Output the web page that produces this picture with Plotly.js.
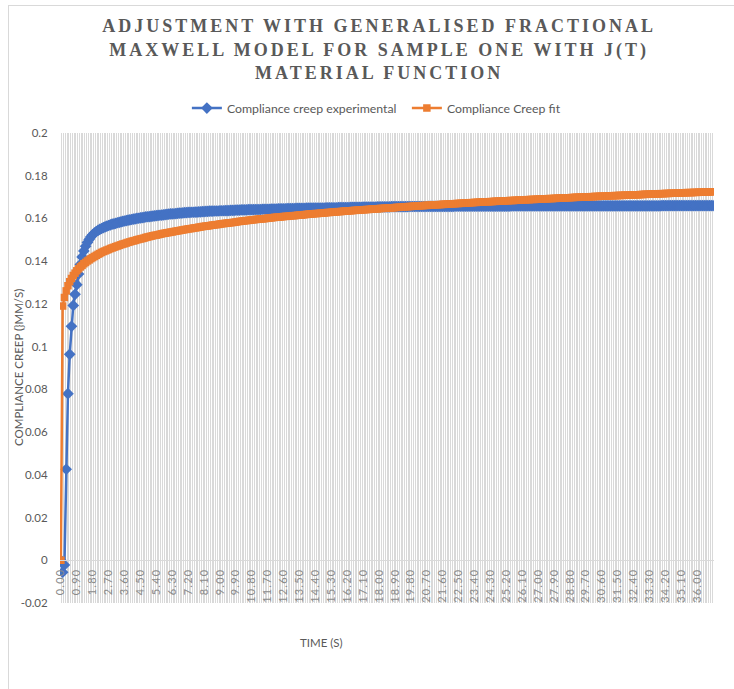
<!DOCTYPE html>
<html><head><meta charset="utf-8">
<script src="https://cdn.plot.ly/plotly-3.0.1.min.js"></script>
<style>
html,body{margin:0;padding:0;background:#fff;overflow:hidden;}
#chart{width:734px;height:689px;}
#frame{position:absolute;left:8px;top:5px;width:760px;height:720px;border:1px solid #d9d9d9;pointer-events:none;}
.gtitle{letter-spacing:3px;}
.xtick text{letter-spacing:1.2px;}
</style></head><body>
<div id="chart"></div><div id="frame"></div>
<script>
const seriesNames = ['Compliance creep experimental', 'Compliance Creep fit'];
const startTime = 0;
const timeStep = 0.1;
// Compliance creep experimental, one value per 0.1 s (rows = whole seconds)
const experimental = [
0, -0.0056, -0.0022, 0.0426, 0.078, 0.0964, 0.1095, 0.1193, 0.1245, 0.129,
0.134, 0.1385, 0.142, 0.1448, 0.147, 0.1488, 0.1502, 0.1514, 0.1524, 0.1532,
0.1539, 0.1544, 0.1549, 0.1553, 0.1557, 0.1561, 0.1564, 0.1567, 0.157, 0.1573,
0.1575, 0.1577, 0.158, 0.1582, 0.1584, 0.1586, 0.1588, 0.159, 0.1592, 0.1593,
0.1595, 0.1597, 0.1598, 0.16, 0.1601, 0.1603, 0.1604, 0.1605, 0.1607, 0.1608,
0.1609, 0.161, 0.1611, 0.1612, 0.1613, 0.1614, 0.1615, 0.1616, 0.1617, 0.1618,
0.1619, 0.162, 0.1621, 0.1621, 0.1622, 0.1623, 0.1624, 0.1625, 0.1625, 0.1626,
0.1627, 0.1627, 0.1628, 0.1628, 0.1629, 0.1629, 0.163, 0.163, 0.1631, 0.1631,
0.1632, 0.1632, 0.1633, 0.1633, 0.1634, 0.1634, 0.1634, 0.1635, 0.1635, 0.1635,
0.1636, 0.1636, 0.1636, 0.1637, 0.1637, 0.1637, 0.1638, 0.1638, 0.1638, 0.1639,
0.1639, 0.1639, 0.164, 0.164, 0.164, 0.164, 0.1641, 0.1641, 0.1641, 0.1641,
0.1642, 0.1642, 0.1642, 0.1642, 0.1643, 0.1643, 0.1643, 0.1643, 0.1643, 0.1644,
0.1644, 0.1644, 0.1644, 0.1645, 0.1645, 0.1645, 0.1645, 0.1645, 0.1646, 0.1646,
0.1646, 0.1646, 0.1646, 0.1647, 0.1647, 0.1647, 0.1647, 0.1647, 0.1647, 0.1648,
0.1648, 0.1648, 0.1648, 0.1648, 0.1649, 0.1649, 0.1649, 0.1649, 0.1649, 0.1649,
0.165, 0.165, 0.165, 0.165, 0.165, 0.165, 0.165, 0.1651, 0.1651, 0.1651,
0.1651, 0.1651, 0.1651, 0.1651, 0.1652, 0.1652, 0.1652, 0.1652, 0.1652, 0.1652,
0.1652, 0.1653, 0.1653, 0.1653, 0.1653, 0.1653, 0.1653, 0.1653, 0.1653, 0.1654,
0.1654, 0.1654, 0.1654, 0.1654, 0.1654, 0.1654, 0.1654, 0.1655, 0.1655, 0.1655,
0.1655, 0.1655, 0.1655, 0.1655, 0.1655, 0.1655, 0.1655, 0.1656, 0.1656, 0.1656,
0.1656, 0.1656, 0.1656, 0.1656, 0.1656, 0.1656, 0.1656, 0.1656, 0.1657, 0.1657,
0.1657, 0.1657, 0.1657, 0.1657, 0.1657, 0.1657, 0.1657, 0.1657, 0.1657, 0.1657,
0.1657, 0.1657, 0.1657, 0.1658, 0.1658, 0.1658, 0.1658, 0.1658, 0.1658, 0.1658,
0.1658, 0.1658, 0.1658, 0.1658, 0.1658, 0.1658, 0.1658, 0.1658, 0.1658, 0.1658,
0.1658, 0.1658, 0.1658, 0.1658, 0.1658, 0.1658, 0.1658, 0.1658, 0.1658, 0.1658,
0.1658, 0.1658, 0.1658, 0.1658, 0.1658, 0.1659, 0.1659, 0.1659, 0.1659, 0.1659,
0.1659, 0.1659, 0.1659, 0.1659, 0.1659, 0.1659, 0.1659, 0.1659, 0.1659, 0.1659,
0.1659, 0.1659, 0.1659, 0.1659, 0.1659, 0.1659, 0.1659, 0.1659, 0.1659, 0.1659,
0.1659, 0.1659, 0.1659, 0.1659, 0.1659, 0.1659, 0.1659, 0.1659, 0.1659, 0.1659,
0.1659, 0.1659, 0.1659, 0.1659, 0.1659, 0.1659, 0.1659, 0.1659, 0.1659, 0.1659,
0.1659, 0.1659, 0.1659, 0.1659, 0.1659, 0.1659, 0.1659, 0.1659, 0.1659, 0.1659,
0.1659, 0.1659, 0.1659, 0.1659, 0.1659, 0.1659, 0.1659, 0.1659, 0.1659, 0.1659,
0.1659, 0.1659, 0.1659, 0.1659, 0.1659, 0.1659, 0.1659, 0.1659, 0.1659, 0.1659,
0.1659, 0.1659, 0.1659, 0.1659, 0.1659, 0.1659, 0.1659, 0.1659, 0.1659, 0.1659,
0.166, 0.166, 0.166, 0.166, 0.166, 0.166, 0.166, 0.166, 0.166, 0.166,
0.166, 0.166, 0.166, 0.166, 0.166, 0.166, 0.166, 0.166, 0.166, 0.166,
0.166, 0.166, 0.166, 0.166, 0.166, 0.166, 0.166, 0.166, 0.166, 0.166
];
// Compliance Creep fit, one value per 0.1 s (rows = whole seconds)
const fit = [
0, 0.119, 0.123, 0.1261, 0.1285, 0.1304, 0.1319, 0.1333, 0.1344, 0.1355,
0.1364, 0.1373, 0.138, 0.1388, 0.1394, 0.1401, 0.1406, 0.1412, 0.1417, 0.1422,
0.1427, 0.1432, 0.1436, 0.1441, 0.1445, 0.1448, 0.1452, 0.1455, 0.1459, 0.1462,
0.1465, 0.1468, 0.1471, 0.1474, 0.1477, 0.148, 0.1482, 0.1485, 0.1488, 0.149,
0.1493, 0.1495, 0.1497, 0.15, 0.1502, 0.1504, 0.1506, 0.1508, 0.1511, 0.1513,
0.1515, 0.1517, 0.1519, 0.1521, 0.1522, 0.1524, 0.1526, 0.1528, 0.153, 0.1531,
0.1533, 0.1534, 0.1536, 0.1537, 0.1539, 0.154, 0.1542, 0.1543, 0.1545, 0.1546,
0.1548, 0.1549, 0.1551, 0.1552, 0.1553, 0.1555, 0.1556, 0.1557, 0.1559, 0.156,
0.1562, 0.1563, 0.1564, 0.1565, 0.1566, 0.1568, 0.1569, 0.157, 0.1571, 0.1572,
0.1574, 0.1575, 0.1576, 0.1577, 0.1578, 0.1579, 0.158, 0.1581, 0.1582, 0.1583,
0.1585, 0.1586, 0.1587, 0.1588, 0.1589, 0.159, 0.1591, 0.1592, 0.1593, 0.1594,
0.1595, 0.1596, 0.1597, 0.1598, 0.1598, 0.1599, 0.16, 0.1601, 0.1602, 0.1603,
0.1604, 0.1605, 0.1606, 0.1606, 0.1607, 0.1608, 0.1609, 0.161, 0.161, 0.1611,
0.1612, 0.1613, 0.1613, 0.1614, 0.1615, 0.1616, 0.1616, 0.1617, 0.1618, 0.1619,
0.162, 0.1621, 0.1621, 0.1622, 0.1623, 0.1623, 0.1624, 0.1625, 0.1625, 0.1626,
0.1627, 0.1628, 0.1628, 0.1629, 0.163, 0.163, 0.1631, 0.1632, 0.1632, 0.1633,
0.1634, 0.1635, 0.1635, 0.1636, 0.1636, 0.1637, 0.1638, 0.1638, 0.1639, 0.1639,
0.164, 0.1641, 0.1641, 0.1642, 0.1642, 0.1643, 0.1644, 0.1644, 0.1645, 0.1645,
0.1646, 0.1647, 0.1647, 0.1648, 0.1648, 0.1649, 0.1649, 0.165, 0.165, 0.1651,
0.1652, 0.1652, 0.1653, 0.1653, 0.1654, 0.1655, 0.1655, 0.1656, 0.1656, 0.1657,
0.1658, 0.1658, 0.1659, 0.1659, 0.166, 0.166, 0.1661, 0.1661, 0.1662, 0.1662,
0.1663, 0.1663, 0.1664, 0.1664, 0.1665, 0.1665, 0.1666, 0.1666, 0.1667, 0.1667,
0.1668, 0.1668, 0.1669, 0.1669, 0.167, 0.167, 0.1671, 0.1671, 0.1672, 0.1672,
0.1673, 0.1673, 0.1674, 0.1674, 0.1675, 0.1675, 0.1676, 0.1676, 0.1677, 0.1677,
0.1678, 0.1678, 0.1678, 0.1679, 0.1679, 0.168, 0.168, 0.1681, 0.1681, 0.1682,
0.1682, 0.1682, 0.1683, 0.1683, 0.1684, 0.1684, 0.1684, 0.1685, 0.1685, 0.1686,
0.1686, 0.1687, 0.1687, 0.1687, 0.1688, 0.1688, 0.1689, 0.1689, 0.1689, 0.169,
0.169, 0.1691, 0.1691, 0.1691, 0.1692, 0.1692, 0.1693, 0.1693, 0.1693, 0.1694,
0.1694, 0.1695, 0.1695, 0.1695, 0.1696, 0.1696, 0.1697, 0.1697, 0.1697, 0.1698,
0.1698, 0.1699, 0.1699, 0.1699, 0.17, 0.17, 0.17, 0.1701, 0.1701, 0.1701,
0.1702, 0.1702, 0.1703, 0.1703, 0.1703, 0.1704, 0.1704, 0.1704, 0.1705, 0.1705,
0.1706, 0.1706, 0.1706, 0.1707, 0.1707, 0.1707, 0.1708, 0.1708, 0.1708, 0.1709,
0.1709, 0.1709, 0.171, 0.171, 0.171, 0.1711, 0.1711, 0.1711, 0.1712, 0.1712,
0.1713, 0.1713, 0.1713, 0.1714, 0.1714, 0.1714, 0.1715, 0.1715, 0.1715, 0.1716,
0.1716, 0.1716, 0.1717, 0.1717, 0.1717, 0.1718, 0.1718, 0.1718, 0.1718, 0.1719,
0.1719, 0.172, 0.172, 0.172, 0.1721, 0.1721, 0.1721, 0.1721, 0.1722, 0.1722,
0.1722, 0.1723, 0.1723, 0.1723, 0.1724, 0.1724, 0.1724, 0.1724, 0.1725, 0.1725
];
const xTickValues = [0, 0.9, 1.8, 2.7, 3.6, 4.5, 5.4, 6.3, 7.2, 8.1, 9, 9.9, 10.8, 11.7, 12.6, 13.5, 14.4, 15.3, 16.2, 17.1, 18, 18.9, 19.8, 20.7, 21.6, 22.5, 23.4, 24.3, 25.2, 26.1, 27, 27.9, 28.8, 29.7, 30.6, 31.5, 32.4, 33.3, 34.2, 35.1, 36];
const xTickLabels = ['0.00','0.90','1.80','2.70','3.60','4.50','5.40','6.30','7.20','8.10','9.00','9.90','10.80','11.70','12.60','13.50','14.40','15.30','16.20','17.10','18.00','18.90','19.80','20.70','21.60','22.50','23.40','24.30','25.20','26.10','27.00','27.90','28.80','29.70','30.60','31.50','32.40','33.30','34.20','35.10','36.00'];
const yTickValues = [0.2, 0.18, 0.16, 0.14, 0.12, 0.1, 0.08, 0.06, 0.04, 0.02, 0, -0.02];
const yTickLabels = ['0.2','0.18','0.16','0.14','0.12','0.1','0.08','0.06','0.04','0.02','0','-0.02'];

const txt = '#595959';
const traces = [
  {type:'scatter', mode:'lines+markers', name:seriesNames[0], y:experimental, x0:startTime, dx:timeStep,
   line:{color:'#4472C4', width:2.5}, marker:{symbol:'diamond', size:9, color:'#4472C4'}},
  {type:'scatter', mode:'lines+markers', name:seriesNames[1], y:fit, x0:startTime, dx:timeStep,
   line:{color:'#ED7D31', width:2.5}, marker:{symbol:'square', size:7.5, color:'#ED7D31'}}
];
const layout = {
  width:734, height:689,
  margin:{l:60, r:20, t:133, b:86},
  paper_bgcolor:'#fff', plot_bgcolor:'#fff',
  showlegend:true,
  title:{text:'ADJUSTMENT WITH GENERALISED FRACTIONAL<br>MAXWELL MODEL FOR SAMPLE ONE WITH J(T)<br>MATERIAL FUNCTION',
    font:{family:'Liberation Serif', size:18, color:txt, weight:'bold'},
    x:0.488, xanchor:'center', xref:'paper', y:0.953, yanchor:'top', yref:'container'},
  legend:{orientation:'h', x:0.194, xanchor:'left', y:1.053, yanchor:'middle', entrywidth:175,
    font:{family:'Lato', size:12.3, color:txt}, bgcolor:'rgba(0,0,0,0)'},
  xaxis:{type:'linear', range:[-0.05, 36.95], anchor:'free', position:0.0909,
    tickmode:'array', tickvals:xTickValues, ticktext:xTickLabels, tickangle:-90,
    tickfont:{family:'Lato', size:11, color:'#8a8a8a'},
    ticks:'outside', ticklen:3, tickcolor:'rgba(0,0,0,0)',
    showgrid:false, zeroline:false, showline:true, linecolor:'#d9d9d9', linewidth:1,
    minor:{tickmode:'linear', tick0:-0.05, dtick:0.1, showgrid:true, gridcolor:'#d9d9d9', gridwidth:1, ticks:''}},
  yaxis:{range:[-0.02, 0.2], tickmode:'array', tickvals:yTickValues, ticktext:yTickLabels,
    tickfont:{family:'Lato', size:11.5, color:txt},
    ticks:'outside', ticklen:9, tickcolor:'rgba(0,0,0,0)',
    showgrid:false, zeroline:false, showline:false},
  annotations:[
    {text:'TIME (S)', xref:'paper', yref:'paper', x:0.4, y:-0.085, xanchor:'center', yanchor:'middle', showarrow:false,
     font:{family:'Lato', size:11.5, color:txt}},
    {text:'COMPLIANCE CREEP (}MM/S)', xref:'paper', yref:'paper', x:-0.0642, y:0.5, xanchor:'center', yanchor:'middle', textangle:-90, showarrow:false,
     font:{family:'Lato', size:11.5, color:txt}}
  ]
};
Plotly.newPlot('chart', traces, layout, {displayModeBar:false, staticPlot:true});
</script>
</body></html>
